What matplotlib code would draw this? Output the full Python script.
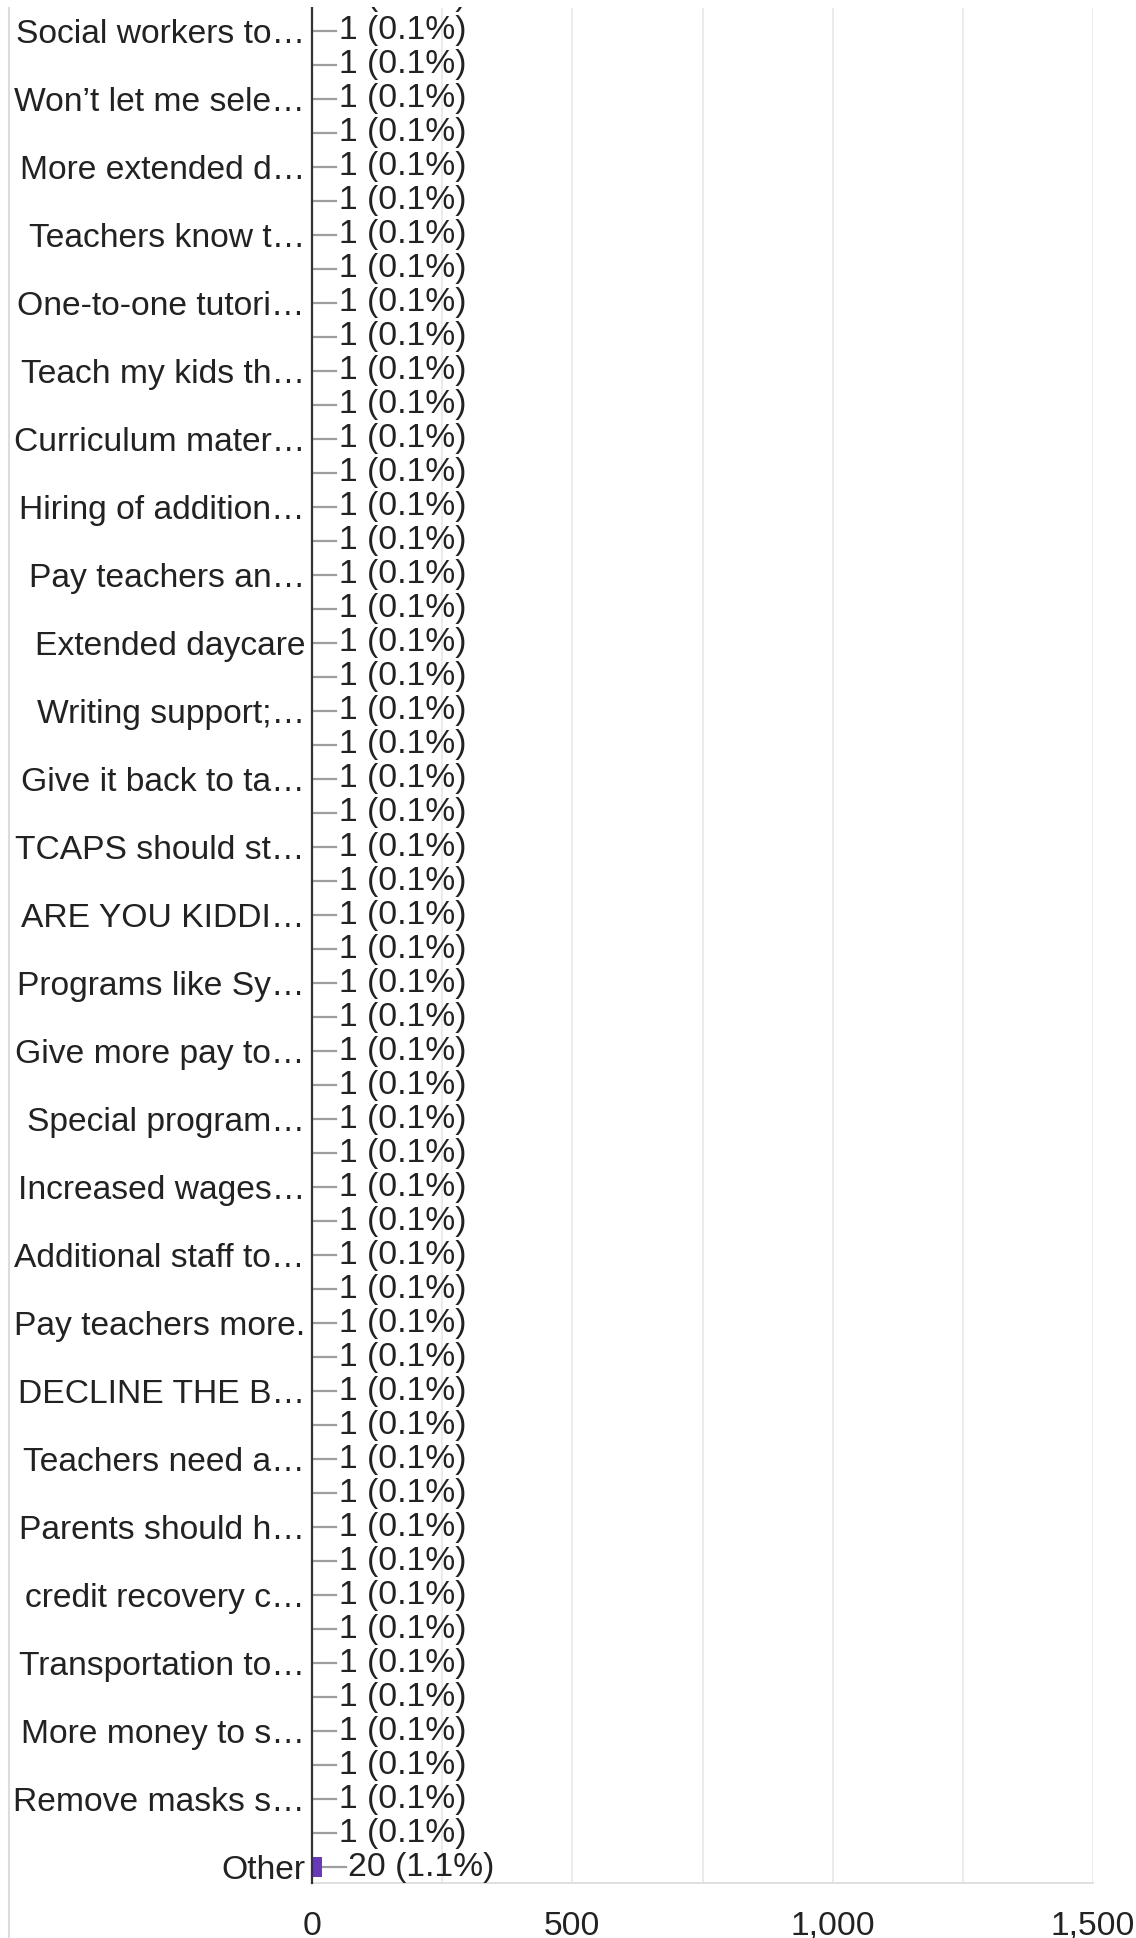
import matplotlib
matplotlib.use('Agg')
from matplotlib import pyplot as plt
from matplotlib.lines import Line2D
from matplotlib.patches import Rectangle

plt.rcParams['font.family'] = ['Liberation Sans', 'DejaVu Sans']

# Data (the chart is a crop of a longer list: top row is cut off)
# every other category label is hidden in the original, shown here as ''
tick_labels = [
    '', 'Social workers to…', '', 'Won’t let me sele…', '', 'More extended d…',
    '', 'Teachers know t…', '', 'One-to-one tutori…', '', 'Teach my kids th…',
    '', 'Curriculum mater…', '', 'Hiring of addition…', '', 'Pay teachers an…',
    '', 'Extended daycare', '', 'Writing support;…', '', 'Give it back to ta…',
    '', 'TCAPS should st…', '', 'ARE YOU KIDDI…', '', 'Programs like Sy…',
    '', 'Give more pay to…', '', 'Special program…', '', 'Increased wages…',
    '', 'Additional staff to…', '', 'Pay teachers more.', '', 'DECLINE THE B…',
    '', 'Teachers need a…', '', 'Parents should h…', '', 'credit recovery c…',
    '', 'Transportation to…', '', 'More money to s…', '', 'Remove masks s…',
    '', 'Other',
]
counts = [1] * 55 + [20]
pcts = ['0.1%'] * 55 + ['1.1%']

rows = list(range(len(counts)))

## Figure
fig = plt.figure(figsize=(11.36, 19.38), dpi=100)
W, H = 1136, 1938
ax = fig.add_axes([312 / W, 1 - 1883 / H, (1093 - 312) / W, (1883 - 8) / H])

ax.barh(rows, counts, height=0.6, color='#673ab7', zorder=3)

# leader lines + value labels
for i in rows:
    c = counts[i]
    ax.plot([c, c + 46], [i, i], color='#9e9e9e', lw=1.6, zorder=2)
    ax.text(c + 50, i, f'{c} ({pcts[i]})', ha='left', va='center',
            fontsize=24.2, color='#222222')

# Axes (ticks first: set_yticks would widen the limits again)
ax.set_yticks(rows)
ax.set_yticklabels(tick_labels)
ax.set_xticks([0, 500, 1000, 1500])
ax.set_xticklabels(['0', '500', '1,000', '1,500'])
ax.set_xticks([250, 750, 1250], minor=True)
ax.set_xlim(0, 1500)
ax.set_ylim(55.47, 0.324)
ax.tick_params(axis='y', length=0, pad=5, labelsize=24.2, labelcolor='#222222')
ax.tick_params(axis='x', which='both', length=0, pad=20, labelsize=24.2,
               labelcolor='#222222')
ax.grid(axis='x', which='both', color='#ebebeb', lw=1.4, zorder=0)
ax.set_axisbelow(True)

for s in ['top', 'right']:
    ax.spines[s].set_visible(False)
ax.spines['left'].set_color('#333333')
ax.spines['left'].set_linewidth(1.6)
ax.spines['left'].set_zorder(4)
ax.spines['bottom'].set_color('#e0e0e0')
ax.spines['bottom'].set_linewidth(1.4)

# the screenshot is clipped a few pixels below its top edge
fig.add_artist(Rectangle((0, 1 - 7 / H), 1, 7 / H, transform=fig.transFigure,
                         facecolor='white', edgecolor='none', zorder=10))
# card border on the left
fig.add_artist(Line2D([8.5 / W, 8.5 / W], [0, 1 - 8 / H], color='#dadce0',
                      lw=1.5, zorder=11))

plt.savefig('out.png', dpi=100)
